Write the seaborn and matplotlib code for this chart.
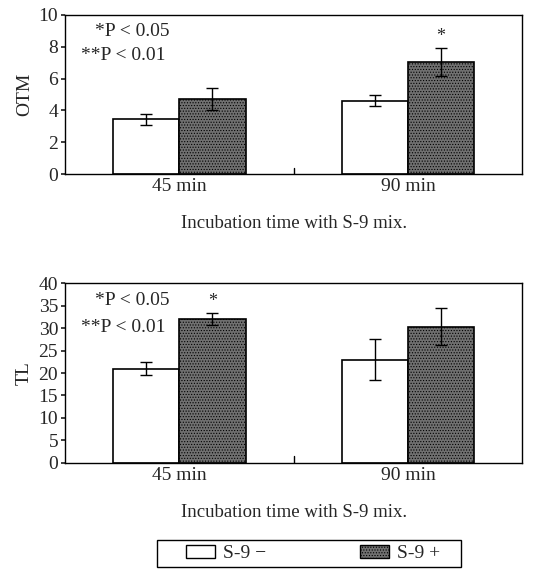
import matplotlib
matplotlib.use("Agg")
import matplotlib.pyplot as plt
import seaborn as sns
import pandas as pd
import numpy as np
from matplotlib.patches import Patch, Rectangle

sns.set_theme(style="ticks")
plt.rcParams['font.family'] = ['Liberation Serif', 'DejaVu Serif']
plt.rcParams['hatch.linewidth'] = 0.5
plt.rcParams['hatch.color'] = '#303030'

times = ["45 min", "90 min"]
groups = ["S-9 \u2212", "S-9 +"]
otm_minus = [3.45, 4.6]
otm_plus = [4.7, 7.05]
otm_err_minus = [0.35, 0.35]
otm_err_plus = [0.7, 0.9]
tl_minus = [21.0, 23.0]
tl_plus = [32.0, 30.3]
tl_err_minus = [1.5, 4.5]
tl_err_plus = [1.3, 4.1]
otm_sig = ["", "", "", "*"]  # order: minus45, minus90, plus45, plus90
tl_sig = ["", "", "*", ""]

dark = "#707070"
colors = {"S-9 \u2212": "white", "S-9 +": dark}
FS = 14

fig = plt.figure(figsize=(5.44, 5.72), dpi=100)
ax1 = fig.add_axes([0.1195, 0.6958, 0.8405, 0.278])
ax2 = fig.add_axes([0.1195, 0.1906, 0.8405, 0.3146])


def draw(ax, minus, plus, em, ep, sig, ylim, yticks, ylabel, sigoff):
    df = pd.DataFrame({
        "time": times * 2,
        "group": [groups[0]] * 2 + [groups[1]] * 2,
        "value": list(minus) + list(plus),
    })
    sns.barplot(data=df, x="time", y="value", hue="group", palette=colors,
                width=0.58, edgecolor="black", linewidth=1.2, ax=ax,
                errorbar=None, legend=False, saturation=1)
    errs = list(em) + list(ep)
    vals = list(minus) + list(plus)
    for p, e, v, s in zip(ax.patches, errs, vals, sig):
        xc = p.get_x() + p.get_width() / 2
        ax.errorbar(xc, v, yerr=e, color="black", capsize=4, lw=1.0, capthick=1.0)
        if s:
            ax.text(xc, v + e + sigoff, s, ha="center", va="bottom", fontsize=13)
    for p in ax.patches[2:4]:
        p.set_hatch("......")
        p.set_edgecolor("black")
    ax.set_xlim(-0.5, 1.5)
    ax.set_ylim(*ylim)
    ax.set_yticks(yticks)
    ax.set_xlabel("Incubation time with S-9 mix.", fontsize=13.5, labelpad=14)
    ax.set_ylabel(ylabel, fontsize=FS)
    ax.tick_params(axis="x", length=0, labelsize=FS, pad=3)
    ax.tick_params(axis="y", labelsize=FS, length=3, pad=2)
    ax.set_xticks([0, 1])
    ax.set_xticklabels(times)
    ax.axvline(0.5, ymin=0, ymax=0.04, color="black", lw=1)
    for s in ax.spines.values():
        s.set_linewidth(1.0)
        s.set_color("black")
    ax.text(0.065, 0.95, "*P < 0.05", transform=ax.transAxes,
            fontsize=FS, va="top", ha="left")
    ax.text(0.035, 0.80, "**P < 0.01", transform=ax.transAxes,
            fontsize=FS, va="top", ha="left")


draw(ax1, otm_minus, otm_plus, otm_err_minus, otm_err_plus, otm_sig,
     (0, 10), [0, 2, 4, 6, 8, 10], "OTM", 0.15)
draw(ax2, tl_minus, tl_plus, tl_err_minus, tl_err_plus, tl_sig,
     (0, 40), list(range(0, 41, 5)), "TL", 0.6)

W, H = 544, 572
# legend frame
fig.add_artist(Rectangle((157 / W, 1 - 567 / H), (461 - 157) / W, (567 - 540) / H,
                         transform=fig.transFigure, fill=False, edgecolor="black", lw=1.0))
handles = [Patch(facecolor="white", edgecolor="black", label=groups[0]),
           Patch(facecolor=dark, edgecolor="black", hatch="......", label=groups[1])]
leg = fig.legend(handles=handles, loc="center", bbox_to_anchor=(313 / W, 1 - 553.5 / H), ncol=2,
                 frameon=False, fontsize=FS,
                 columnspacing=4.8, handlelength=1.5, handleheight=0.7,
                 borderpad=0.0, handletextpad=0.4, borderaxespad=0)

fig.savefig("out.png", dpi=100)
